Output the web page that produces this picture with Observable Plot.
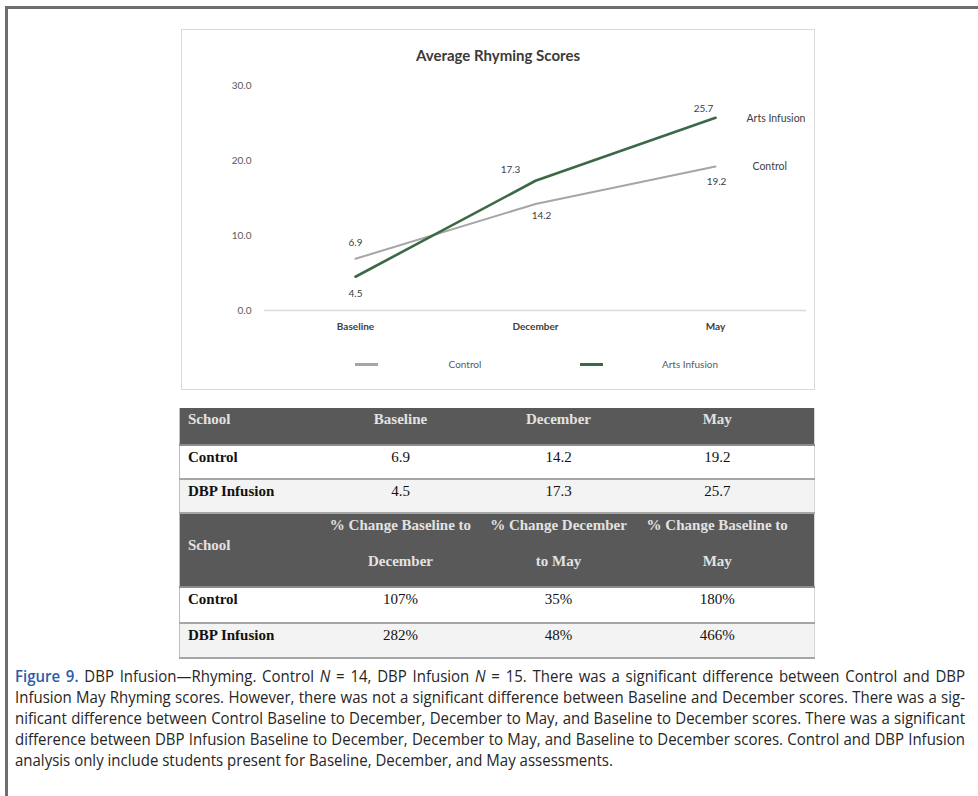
<!DOCTYPE html>
<html>
<head>
<meta charset="utf-8">
<script src="https://cdn.jsdelivr.net/npm/d3@7"></script>
<script src="https://cdn.jsdelivr.net/npm/@observablehq/plot@0.6"></script>
<style>
html, body { margin: 0; padding: 0; background: #fff; }
body { width: 978px; height: 796px; position: relative; overflow: hidden; }
#frame { position: absolute; left: 5px; top: 6px; width: 1000px; height: 820px;
  border-left: 3px solid #6e6e6e; border-top: 3px solid #6e6e6e; box-sizing: border-box; }
#chartbox { position: absolute; left: 181px; top: 29px; width: 634px; height: 361px;
  border: 1px solid #d9d9d9; box-sizing: border-box; }
#title { position: absolute; left: 181px; width: 634px; top: 46px; text-align: center;
  font: bold 15px/18px Lato, "Open Sans", sans-serif; color: #3a3a3a; }
#plot { position: absolute; left: 181px; top: 29px; }
.leg { position: absolute; top: 357px; height: 14px; font: 10px/14px Lato, sans-serif; color: #595959; }
.leg .sw { position: absolute; left: 0; top: 6px; width: 23px; height: 2.5px; }
.leg .lt { position: absolute; left: 23px; width: 174px; text-align: center; top: 0; }
#table { position: absolute; left: 179px; top: 408px; width: 635px; border-collapse: collapse;
  table-layout: fixed; font-family: "Liberation Serif", "Times New Roman", serif; font-size: 15px;
  border-left: 1px solid #bdbdbd; border-right: 1px solid #d6d6d6; }
#table td { padding: 0; vertical-align: top; line-height: 22px; text-align: center; color: #111; }
#table td.sch { text-align: left; padding-left: 8px; font-weight: bold; }
#table tr.hd td { background: #595959; color: #e2e2e2; font-weight: bold; border-bottom: 2px solid #8c8c8c; }
#table tr.r1 td { background: #ffffff; border-bottom: 2px solid #a6a6a6; }
#table tr.r2 td { background: #f3f3f3; border-bottom: 2px solid #a6a6a6; }
#table td.last { padding-right: 17px; }
#caption { position: absolute; left: 15px; top: 665px; width: 950px;
  font-family: "Open Sans", "Liberation Sans", sans-serif;
  font-size: 17px; line-height: 21px; color: #262626; }
#caption .ln { white-space: nowrap; text-align: justify; text-align-last: justify; transform-origin: 0 0; height: 21px; }
#caption .ln.end { text-align-last: left; }
#caption .fig { color: #2a5ca8; font-weight: 600; }
</style>
</head>
<body>
<div id="frame"></div>
<div id="chartbox"></div>
<div id="title">Average Rhyming Scores</div>
<div id="plot"></div>
<div id="legend"></div>
<table id="table"></table>
<div id="caption"></div>
<script>
// ---- Chart data ----
const periods = ["Baseline", "December", "May"];
const seriesNames = ["Control", "Arts Infusion"];
const controlScores = [6.9, 14.2, 19.2];
const artsScores = [4.5, 17.3, 25.7];
const yTicks = [0, 10, 20, 30];
const seriesColors = ["#a6a6a6", "#3b6946"];

// ---- Table data ----
const tableHeader = ["School", "Baseline", "December", "May"];
const tableSchools = ["Control", "DBP Infusion"];
const controlTable = [6.9, 14.2, 19.2];
const dbpTable = [4.5, 17.3, 25.7];
const changeHeaderTop = ["% Change Baseline to", "% Change December", "% Change Baseline to"];
const changeHeaderBottom = ["December", "to May", "May"];
const controlChange = [107, 35, 180];
const dbpChange = [282, 48, 466];

// ---- Caption text ----
const captionLines = [
  '<span class="fig">Figure 9.</span> DBP Infusion\u2014Rhyming. Control <i>N</i> = 14, DBP Infusion <i>N</i> = 15. There was a significant difference between Control and DBP',
  'Infusion May Rhyming scores. However, there was not a significant difference between Baseline and December scores. There was a sig-',
  'nificant difference between Control Baseline to December, December to May, and Baseline to December scores. There was a significant',
  'difference between DBP Infusion Baseline to December, December to May, and Baseline to December scores. Control and DBP Infusion',
  'analysis only include students present for Baseline, December, and May assessments.'
];

const scoreSets = [controlScores, artsScores];
const rows = seriesNames.flatMap((s, si) =>
  periods.map((p, i) => ({series: s, period: p, value: scoreSets[si][i]})));

// label placement (offsets from each point), as in the original chart
const labelOffset = {
  "Control|Baseline": [0, -16], "Control|December": [6, 12], "Control|May": [1, 15],
  "Arts Infusion|Baseline": [0, 17], "Arts Infusion|December": [-25, -11], "Arts Infusion|May": [-12, -9]
};
const nameOffset = {"Control": [37, 0], "Arts Infusion": [31, 1]};

const valueLabels = rows.map(r => {
  const [dx, dy] = labelOffset[r.series + "|" + r.period];
  return Plot.text([r], {x: "period", y: "value", text: d => d.value.toFixed(1), dx, dy,
    fill: "#404040", fontSize: 10});
});
const nameLabels = seriesNames.map(s => {
  const [dx, dy] = nameOffset[s];
  const last = rows.filter(r => r.series === s).slice(-1);
  return Plot.text(last, {x: "period", y: "value", text: "series", dx, dy, textAnchor: "start",
    fill: "#404040", fontSize: 10.5});
});

const chart = Plot.plot({
  width: 633,
  height: 310,
  marginTop: 56,
  marginBottom: 29,
  marginLeft: 83,
  marginRight: 8,
  style: {fontFamily: "Lato, 'Open Sans', sans-serif", fontSize: "10px", color: "#595959", background: "transparent", overflow: "visible"},
  x: {type: "point", domain: periods, padding: 0.5, label: null},
  y: {domain: [0, 30], label: null},
  color: {domain: seriesNames, range: seriesColors},
  marks: [
    Plot.axisY({ticks: yTicks, tickFormat: d => d.toFixed(1), tickSize: 0, tickPadding: 13, label: null, fill: "#595959"}),
    Plot.axisX({tickSize: 0, tickPadding: 12, label: null, fontWeight: "bold", fill: "#404040"}),
    Plot.ruleY([0], {stroke: "#d9d9d9", strokeWidth: 1.5}),
    Plot.line(rows.filter(r => r.series === "Control"), {x: "period", y: "value", stroke: "series", strokeWidth: 2}),
    Plot.line(rows.filter(r => r.series === "Arts Infusion"), {x: "period", y: "value", stroke: "series", strokeWidth: 2.6}),
    ...valueLabels,
    ...nameLabels
  ]
});
document.getElementById("plot").appendChild(chart);

// ---- Legend ----
const legend = d3.select("#legend");
const legLeft = [355, 580];
seriesNames.forEach((s, i) => {
  const g = legend.append("div").attr("class", "leg").style("left", legLeft[i] + "px").style("width", "197px");
  g.append("div").attr("class", "sw").style("background", seriesColors[i]);
  g.append("div").attr("class", "lt").text(s);
});

// ---- Table ----
const colW = [142, 158, 158, 177];
const tbl = d3.select("#table");
const cg = tbl.append("colgroup");
colW.forEach(w => cg.append("col").style("width", w + "px"));

const h1 = tbl.append("tr").attr("class", "hd").style("height", "37px");
tableHeader.forEach((h, i) => h1.append("td").attr("class", i === 0 ? "sch" : (i === 3 ? "last" : null)).text(h));

const scoreRows = [controlTable, dbpTable];
tableSchools.forEach((s, si) => {
  const tr = tbl.append("tr").attr("class", si === 0 ? "r1" : "r2").style("height", "34px");
  tr.append("td").attr("class", "sch").text(s);
  scoreRows[si].forEach((v, i) => tr.append("td").attr("class", i === 2 ? "last" : null).text(v.toFixed(1)));
});

const h2 = tbl.append("tr").attr("class", "hd").style("height", "74px");
h2.append("td").attr("class", "sch").style("padding-top", "20px").text("School");
changeHeaderTop.forEach((t, i) => {
  const td = h2.append("td").attr("class", i === 2 ? "last" : null).style("white-space", "nowrap");
  td.append("div").text(t);
  td.append("div").style("margin-top", "14px").text(changeHeaderBottom[i]);
});

const changeRows = [controlChange, dbpChange];
tableSchools.forEach((s, si) => {
  const tr = tbl.append("tr").attr("class", si === 0 ? "r1" : "r2").style("height", si === 0 ? "36px" : "35px");
  tr.append("td").attr("class", "sch").text(s);
  changeRows[si].forEach((v, i) => tr.append("td").attr("class", i === 2 ? "last" : null).text(v + "%"));
});

// ---- Caption (condensed by horizontal scaling, justified to the full width) ----
const cap = d3.select("#caption");
const capWidth = 950;
const capEl = document.getElementById("caption");
const naturalWidths = captionLines.map(l => {
  const probe = document.createElement("span");
  probe.style.whiteSpace = "nowrap";
  probe.innerHTML = l;
  capEl.appendChild(probe);
  const w = probe.getBoundingClientRect().width;
  probe.remove();
  return w;
});
const widest = d3.max(naturalWidths.slice(0, -1));
const sx = (capWidth - 6) / widest;
captionLines.forEach((l, i) => cap.append("div")
  .attr("class", "ln" + (i === captionLines.length - 1 ? " end" : ""))
  .style("width", (capWidth / sx) + "px")
  .style("transform", `scaleX(${sx})`)
  .html(l));
</script>
</body>
</html>
